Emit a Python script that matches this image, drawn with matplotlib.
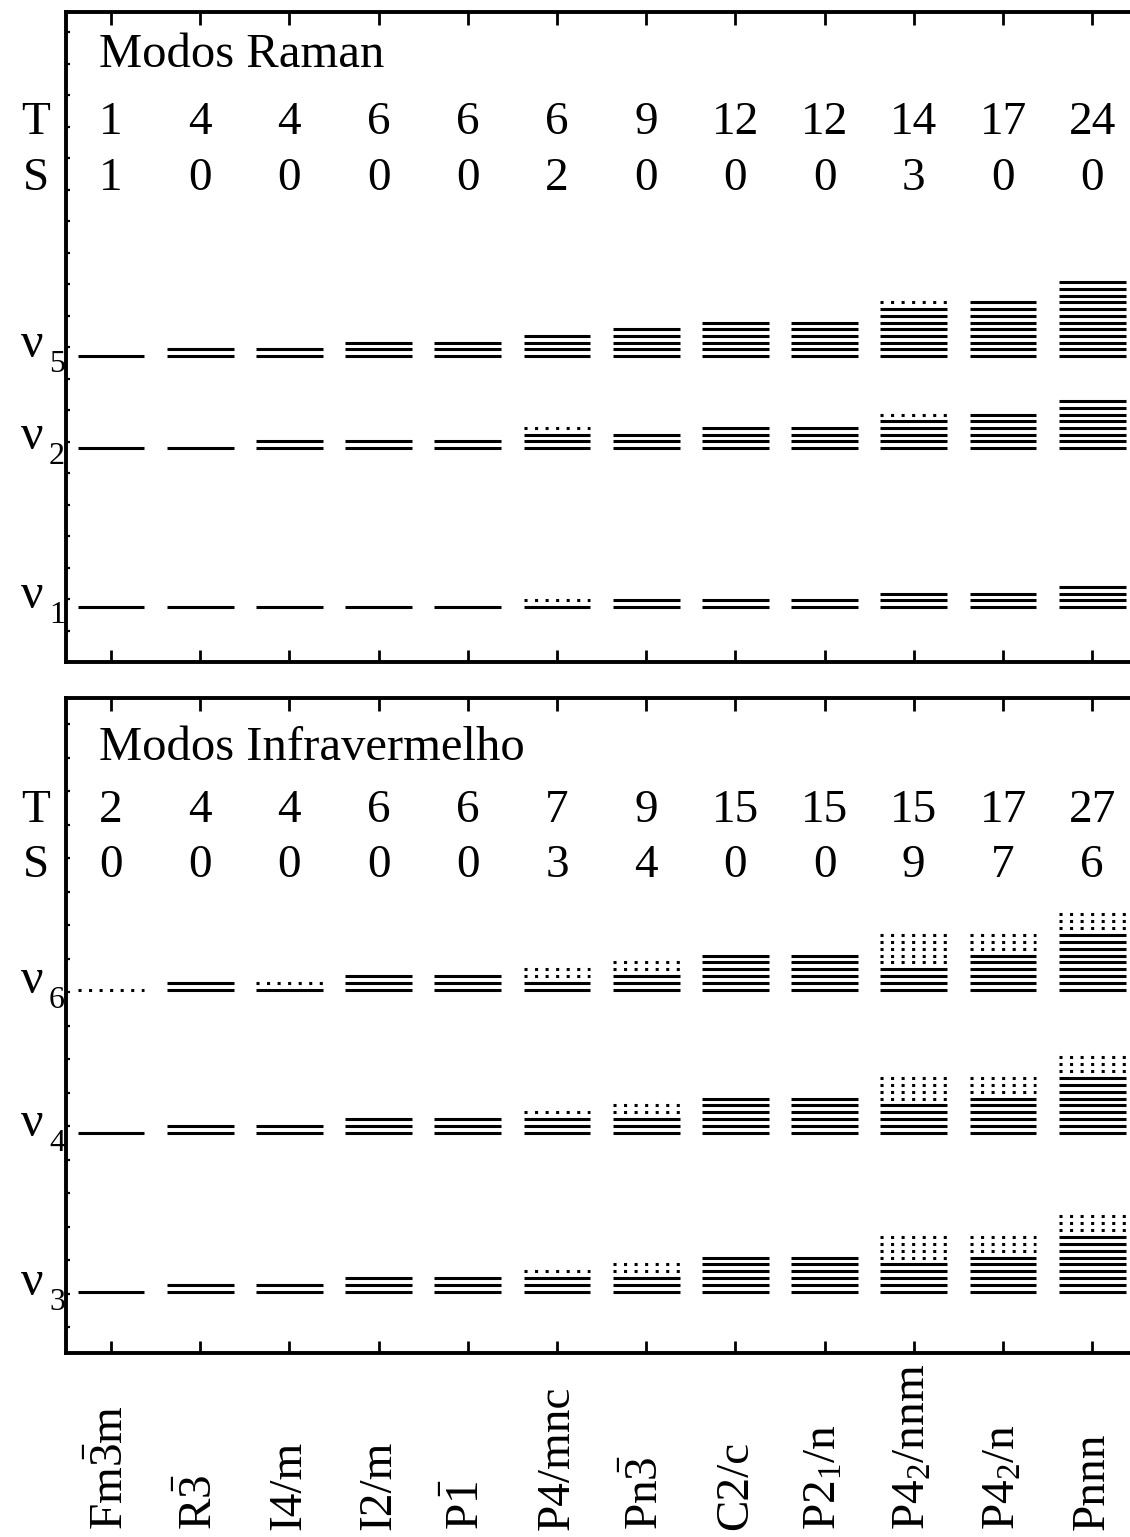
import matplotlib
matplotlib.use("Agg")
import matplotlib.pyplot as plt
from matplotlib import transforms

plt.rcParams["font.family"] = ["Liberation Serif", "DejaVu Serif"]
plt.rcParams["mathtext.fontset"] = "custom"
plt.rcParams["mathtext.rm"] = "Liberation Serif"
plt.rcParams["mathtext.it"] = "Liberation Serif"
plt.rcParams["mathtext.bf"] = "Liberation Serif:bold"
plt.rcParams["mathtext.default"] = "rm"

# ---- data -------------------------------------------------------------
space_groups = [r"Fm$\bar{3}$m", r"R$\bar{3}$", "I4/m", "I2/m", r"P$\bar{1}$",
                "P4/mnc", r"Pn$\bar{3}$", "C2/c", r"P2$_1$/n", r"P4$_2$/nnm",
                r"P4$_2$/n", "Pnnn"]

raman_T = [1, 4, 4, 6, 6, 6, 9, 12, 12, 14, 17, 24]
raman_S = [1, 0, 0, 0, 0, 2, 0, 0, 0, 3, 0, 0]
ir_T = [2, 4, 4, 6, 6, 7, 9, 15, 15, 15, 17, 27]
ir_S = [0, 0, 0, 0, 0, 3, 4, 0, 0, 9, 7, 6]

# number of active (solid) and silent (dotted) components per mode
nu5_active = [1, 2, 2, 3, 3, 4, 5, 6, 6, 8, 9, 12]
nu5_silent = [0, 0, 0, 0, 0, 0, 0, 0, 0, 1, 0, 0]
nu2_active = [1, 1, 2, 2, 2, 3, 3, 4, 4, 5, 6, 8]
nu2_silent = [0, 0, 0, 0, 0, 1, 0, 0, 0, 1, 0, 0]
nu1_active = [1, 1, 1, 1, 1, 1, 2, 2, 2, 3, 3, 4]
nu1_silent = [0, 0, 0, 0, 0, 1, 0, 0, 0, 0, 0, 0]

nu6_active = [0, 2, 1, 3, 3, 2, 3, 6, 6, 4, 6, 9]
nu6_silent = [1, 0, 1, 0, 0, 2, 2, 0, 0, 5, 3, 3]
nu4_active = [1, 2, 2, 3, 3, 3, 3, 6, 6, 5, 6, 9]
nu4_silent = [0, 0, 0, 0, 0, 1, 2, 0, 0, 4, 3, 3]
nu3_active = [1, 2, 2, 3, 3, 3, 3, 6, 6, 5, 6, 9]
nu3_silent = [0, 0, 0, 0, 0, 1, 2, 0, 0, 4, 3, 3]

# ---- layout -------------------------------------------------------------
W, H = 1130, 1537
fig = plt.figure(figsize=(W / 100, H / 100), dpi=100)

LEFT = 66
COL0, COLSTEP = 111, 89.2
XMIN = (LEFT - COL0) / COLSTEP
XMAX = (W - COL0) / COLSTEP
HALF = 0.375
FS = 34


def px_axes(top, bottom):
    return fig.add_axes([LEFT / W, (H - bottom) / H, (W - LEFT) / W, (bottom - top) / H])


def stack(ax, base, active, silent, step):
    for i, (na, ns) in enumerate(zip(active, silent)):
        for k in range(na):
            ax.hlines(base + k * step, i - HALF, i + HALF, colors="black",
                      linewidth=2.2, capstyle="butt")
        for k in range(na, na + ns):
            ax.hlines(base + k * step, i - HALF, i + HALF, colors="black",
                      linewidth=2.2, linestyles=(0, (1.0, 2.45)), capstyle="butt")


def frame(ax, height, yticks):
    ax.set_xlim(XMIN, XMAX)
    ax.set_ylim(0, height)
    ax.spines["right"].set_visible(False)
    for s in ("left", "bottom", "top"):
        ax.spines[s].set_linewidth(2.8)
    ax.set_xticks(range(len(space_groups)))
    ax.set_xticklabels([])
    ax.tick_params(axis="x", direction="in", length=9, width=2.0,
                   top=True, bottom=True, labelbottom=False)
    ax.set_yticks(yticks)
    ax.set_yticklabels([])
    ax.tick_params(axis="y", direction="in", length=3, width=1.6, left=True, right=False)


def header(ax, title, title_y, T, S, t_y, s_y):
    ax.text(-0.13, title_y, title, fontsize=35, ha="left", va="baseline")
    lab = transforms.blended_transform_factory(fig.transFigure, ax.transData)
    ax.text(36 / W, t_y, "T", transform=lab, fontsize=FS, ha="center", va="baseline")
    ax.text(36 / W, s_y, "S", transform=lab, fontsize=FS, ha="center", va="baseline")
    for i, (t, s) in enumerate(zip(T, S)):
        ax.text(i, t_y, str(t), fontsize=FS, ha="center", va="baseline")
        ax.text(i, s_y, str(s), fontsize=FS, ha="center", va="baseline")


def mode_label(ax, y, n):
    lab = transforms.blended_transform_factory(fig.transFigure, ax.transData)
    ax.text(21 / W, y, "\u03bd", transform=lab, fontsize=36,
            ha="left", va="baseline")
    ax.text(49 / W, y - 15, str(n), transform=lab, fontsize=23,
            ha="left", va="baseline")


# Raman panel
ax1 = px_axes(12, 662)
h1 = 650
frame(ax1, h1, [31.5 * k for k in range(1, 21)])
header(ax1, "Modos Raman", h1 - 55, raman_T, raman_S, h1 - 122, h1 - 178)
raman_modes = [(5, 306, nu5_active, nu5_silent),
               (2, 214, nu2_active, nu2_silent),
               (1, 55, nu1_active, nu1_silent)]
for n, base, act, sil in raman_modes:
    stack(ax1, base, act, sil, 6.7)
    mode_label(ax1, base - 1, n)

# Infrared panel
ax2 = px_axes(698, 1353)
h2 = 655
frame(ax2, h2, [26 + 33.5 * k for k in range(0, 19)])
header(ax2, "Modos Infravermelho", h2 - 62, ir_T, ir_S, h2 - 124, h2 - 179)
ir_modes = [(6, 363, nu6_active, nu6_silent),
            (4, 220, nu4_active, nu4_silent),
            (3, 61, nu3_active, nu3_silent)]
for n, base, act, sil in ir_modes:
    stack(ax2, base, act, sil, 6.9)
    mode_label(ax2, base - 3, n)

# space-group names below the lower panel
names = transforms.blended_transform_factory(ax2.transData, fig.transFigure)
for i, name in enumerate(space_groups):
    ax2.text(i, 7 / H, name, transform=names, fontsize=FS, rotation=90,
             ha="center", va="bottom")

fig.savefig("out.png", dpi=100)
